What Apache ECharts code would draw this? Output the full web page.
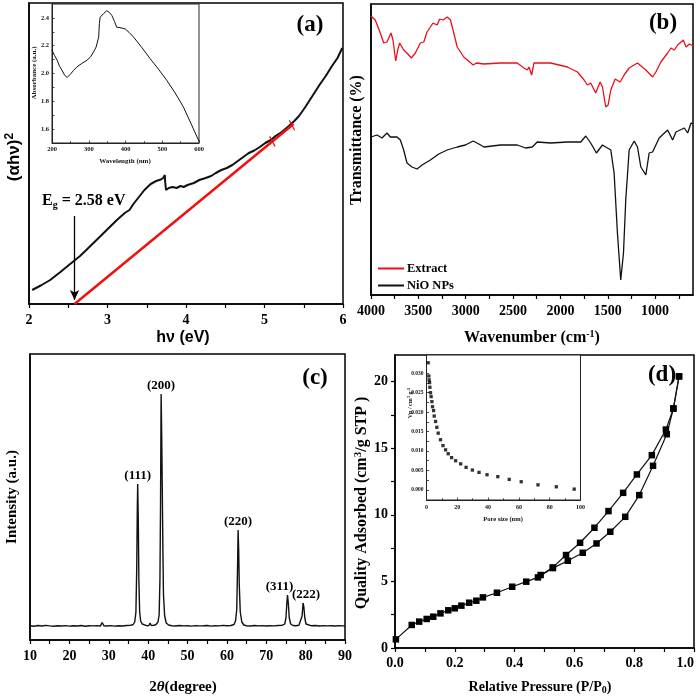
<!DOCTYPE html>
<html>
<head>
<meta charset="utf-8">
<script src="https://cdn.jsdelivr.net/npm/echarts@6/dist/echarts.min.js"></script>
<style>
html,body{margin:0;padding:0;background:#fff;}
#chart{width:700px;height:697px;}
</style>
</head>
<body>
<div id="chart"></div>
<script>
// ---------- DATA ----------
// (a) Tauc plot
const taucEnergy = [2.04,2.15,2.27,2.4,2.54,2.65,2.73,2.86,2.99,3.12,3.22,3.28,3.33,3.40,3.47,3.55,3.62,3.68,3.71,3.73,3.735,3.745,3.78,3.83,3.88,3.93,3.97,4.02,4.1,4.17,4.25,4.32,4.38,4.45,4.52,4.59,4.66,4.73,4.8,4.87,4.94,5.01,5.08,5.14,5.22,5.31,5.38,5.44,5.52,5.61,5.7,5.78,5.86,5.93,5.99];
const taucValue  = [14,18.5,24,32,41,48,54,64,74,84,91,94,100,107,114,120,123,124.5,126,129,122,114,116,117,116,118,117,119,121,124,126,128,131,134,136,139,143,147,151,153.5,157,161,164,168,172,178,183,188,197,208,219,228,238,246,256];
const taucFitEnergy = [2.58, 5.37];
const taucFitValue  = [0, 180];
const fitTick1Energy = [5.066, 5.134];
const fitTick1Value  = [167.6, 157.6];
const fitTick2Energy = [5.316, 5.384];
const fitTick2Value  = [183.7, 173.7];
const bandGap = 2.58;
const arrowTop = 88, arrowBottom = 4;
// (a) inset UV-vis
const uvWavelength = [200,207,214,221,227,234,241,245,250,258,268,281,295,305,313,320,327,329,331,340,349,356,363,370,376,385,399,410,422,445,467,490,512,535,557,580,600];
const uvAbsorbance = [2.167,2.13,2.095,2.05,2.024,1.99,1.971,1.975,1.995,2.02,2.048,2.072,2.095,2.12,2.155,2.19,2.262,2.36,2.405,2.43,2.452,2.44,2.417,2.375,2.333,2.33,2.321,2.295,2.262,2.185,2.107,2.03,1.952,1.86,1.762,1.63,1.512];
// (b) FTIR
const ftirWnExtract = [4000,3955,3902,3866,3831,3789,3768,3739,3718,3697,3655,3620,3574,3532,3479,3443,3408,3345,3302,3274,3239,3196,3161,3126,3090,3020,2921,2886,2808,2632,2456,2385,2350,2332,2304,2279,2103,1926,1820,1750,1715,1680,1627,1581,1556,1521,1496,1468,1422,1369,1327,1274,1186,1098,1027,992,939,868,833,797,762,702,674,638,600];
const ftirExtract   = [279,275,262,252,253,262,255,234,245,252,245,242,237,242,252,253,263,272,270,276,275,278,275,262,248,238,230,232,231,232,232,227,225,228,220,232,232,228,223,215,210,212,202,213,208,188,190,205,216,213,220,227,232,225,218,223,233,242,247,245,250,255,248,251,249];
const ftirWnNiO = [4000,3937,3884,3831,3796,3725,3690,3655,3620,3567,3514,3461,3373,3285,3196,3090,3003,2921,2861,2808,2632,2456,2368,2297,2245,2103,1926,1785,1732,1680,1620,1556,1468,1433,1398,1363,1334,1310,1274,1221,1186,1151,1098,1063,1027,957,868,815,780,692,656,621,600];
const ftirNiO   = [158,160,157,162,158,158,155,145,132,128,126,130,135,141,145,148,150,154,151,148,150,150,147,148,153,152,153,153,159,152,142,150,145,122,62,15,42,95,145,154,148,128,120,142,143,157,165,155,163,167,162,172,171];
const ftirNames = ['Extract','NiO NPs'];
const ftirXLabels = [4000,3500,3000,2500,2000,1500,1000];
const ftirXTicks = [4000,3750,3500,3250,3000,2750,2500,2250,2000,1750,1500,1250,1000,750];
// (c) XRD
const xrdAngle = [10,11,12,13,14,15,16,17,18,19,20,21,22,23,24,25,26,27,27.9,28.3,28.5,28.8,29.5,30.5,31.5,32.5,33.5,34.5,35.5,36.2,36.6,36.9,37.1,37.25,37.35,37.5,37.65,37.85,38.1,38.5,39,39.6,40.2,40.5,40.8,41.4,42.0,42.5,42.8,43.0,43.15,43.3,43.45,43.6,43.75,43.9,44.2,44.6,45.2,46,47,48,49,50,51,52,53,54,55,56,57,58,59,60,61,61.8,62.2,62.5,62.7,62.85,63.0,63.15,63.4,63.8,64.3,65,66,67,68,69,70,71,72,73,74,74.7,75.0,75.25,75.4,75.6,75.85,76.2,76.8,77.5,78.3,78.8,79.1,79.35,79.55,79.8,80.1,80.6,81.5,82.5,83.5,84.5,85.5,86.5,87.5,88.5,89.5,90];
const xrdIntensity = [14.2,13.8,14.5,14.0,14.6,14.1,13.7,14.3,14.0,14.4,13.9,14.2,14.0,14.5,13.8,14.3,14.1,14.4,14.0,17.5,18.5,14.2,14.0,14.4,13.9,14.3,14.0,14.5,14.6,15.5,18,28,70,130,156,120,60,28,19,16,14.8,14.3,14.5,17,14.5,14.6,15.5,18,25,60,135,246,205,150,90,45,24,17,15,14.3,14.0,14.5,14.1,14.3,13.9,14.4,14.1,14.2,14.5,13.9,14.3,14.1,14.6,14.2,14.5,15.5,19,30,70,110,90,55,28,18,15,14.3,14.0,14.5,14.1,14.4,14.0,14.3,14.1,14.5,14.6,16,22,38,45,37,22,16,14.5,14.3,14.8,16,24,37,33,22,16,14.5,14.2,14.5,14.0,14.4,14.1,14.3,14.0,14.4,14.1,14.2];
const peakNames  = ['(111)','(200)','(220)','(311)','(222)'];
const peakAngle  = [37.35,43.3,62.85,75.4,79.35];
const peakHeight = [156,246,110,45,37];
// (d) N2 isotherm
const adsP = [0.003,0.056,0.081,0.106,0.128,0.152,0.178,0.2,0.222,0.248,0.272,0.294,0.341,0.392,0.439,0.478,0.528,0.578,0.628,0.674,0.72,0.77,0.817,0.863,0.909,0.931,0.95];
const adsQ = [0.65,1.73,1.98,2.18,2.35,2.6,2.83,2.98,3.18,3.4,3.55,3.8,4.15,4.6,4.98,5.3,6.0,6.55,7.15,7.85,8.73,9.85,11.48,13.68,16.05,17.98,20.4];
const desP = [0.95,0.931,0.906,0.859,0.809,0.763,0.714,0.667,0.619,0.572,0.528,0.487];
const desQ = [20.4,17.98,16.4,14.48,13.03,11.65,10.28,9.03,7.9,6.98,6.05,5.48];
// (d) inset pore size distribution
const poreSize   = [1.1,1.5,1.7,2.0,2.2,2.6,3.0,3.5,3.9,4.6,5.0,5.9,6.7,7.6,9.1,10.7,12.4,14.1,16.3,18.9,22.2,25.7,29.8,34.1,39.3,46.3,53.7,61.5,72.4,84.3,95.9];
const poreVolume = [0.0327,0.0293,0.0283,0.0276,0.0264,0.0250,0.0240,0.0227,0.0214,0.0204,0.0190,0.0176,0.0161,0.0146,0.0129,0.0114,0.0103,0.0093,0.0083,0.0075,0.0067,0.0058,0.0051,0.0045,0.0039,0.0034,0.0027,0.0021,0.0013,0.0008,0.0002];

// ---------- HELPERS ----------
const serif = '"Liberation Serif","Times New Roman",serif';
const sans = '"Liberation Sans",Arial,sans-serif';
const zip = (a,b) => a.map((v,i)=>[v,b[i]]);

function mainX(grid, min, max, extra) {
  return Object.assign({
    type:'value', gridIndex:grid, min:min, max:max,
    axisLine:{show:true, onZero:false, lineStyle:{color:'#000', width:1.5}},
    axisTick:{show:true, length:4, lineStyle:{color:'#000', width:1.2}},
    minorTick:{show:true, splitNumber:2, length:4, lineStyle:{color:'#000', width:1.2}},
    axisLabel:{color:'#000', fontFamily:serif, fontWeight:'bold', fontSize:14, margin:9, formatter:v=>String(v)},
    splitLine:{show:false}, minorSplitLine:{show:false}
  }, extra||{});
}
function bareY(grid, min, max) {
  return {type:'value', gridIndex:grid, min:min, max:max,
    axisLine:{show:true, onZero:false, lineStyle:{color:'#000', width:1.5}},
    axisTick:{show:false}, axisLabel:{show:false}, splitLine:{show:false}};
}
function insetAxis(grid, min, max, extra) {
  return Object.assign({
    type:'value', gridIndex:grid, min:min, max:max,
    axisLine:{show:true, onZero:false, lineStyle:{color:'#222', width:1}},
    axisTick:{show:true, inside:true, length:2.5, lineStyle:{color:'#222', width:0.8}},
    axisLabel:{color:'#111', fontFamily:serif, fontWeight:'bold', fontSize:6.5, margin:3},
    splitLine:{show:false}
  }, extra||{});
}
function txt(x,y,text,size,opts) {
  return Object.assign({type:'text', x:x, y:y, z:100,
    style:Object.assign({text:text, fill:'#000', font:'bold '+size+'px '+serif, align:'center', verticalAlign:'middle'}, (opts&&opts.style)||{}),
  }, (opts&&opts.el)||{});
}

const chart = echarts.init(document.getElementById('chart'), null, {renderer:'canvas'});

const option = {
  backgroundColor:'#fff',
  animation:false,
  grid:[
    {left:29, top:3, width:314, height:301, show:true, borderColor:'#000', borderWidth:1.5},
    {left:52, top:4, width:147, height:139, show:true, borderColor:'#222', borderWidth:1, backgroundColor:'#fff', z:5},
    {left:371, top:4, width:322, height:291, show:true, borderColor:'#000', borderWidth:1.5},
    {left:30, top:354, width:315, height:286, show:true, borderColor:'#000', borderWidth:1.5},
    {left:395, top:355, width:299, height:293, show:true, borderColor:'#000', borderWidth:1.5},
    {left:426.5, top:355, width:154, height:145, show:true, borderColor:'#222', borderWidth:1, backgroundColor:'#fff', z:5}
  ],
  xAxis:[
    mainX(0, 2, 6, {interval:1}),
    insetAxis(1, 200, 600, {interval:100, minorTick:{show:true, splitNumber:2, length:1.8, lineStyle:{color:'#222', width:0.8}}, z:6}),
    mainX(2, 600, 4000, {inverse:true,
      axisTick:{show:true, length:4, customValues:ftirXTicks, lineStyle:{color:'#000', width:1.2}},
      minorTick:{show:false},
      axisLabel:{color:'#000', fontFamily:serif, fontWeight:'bold', fontSize:14, margin:9, customValues:ftirXLabels, formatter:v=>String(v)}}),
    mainX(3, 10, 90, {interval:10}),
    mainX(4, 0, 1, {interval:0.2, axisLabel:{color:'#000', fontFamily:serif, fontWeight:'bold', fontSize:14, margin:8, alignMaxLabel:'right', formatter:v=>v.toFixed(1)}}),
    insetAxis(5, 0, 100, {interval:20, minorTick:{show:true, splitNumber:2, length:1.8, lineStyle:{color:'#222', width:0.8}}, axisLabel:{color:'#111', fontFamily:serif, fontWeight:'bold', fontSize:6, margin:4}, z:6})
  ],
  yAxis:[
    bareY(0, 0, 301),
    insetAxis(1, 1.5, 2.5, {
      axisTick:{show:true, inside:true, length:2.5, customValues:[1.6,1.7,1.8,1.9,2.0,2.1,2.2,2.3,2.4], lineStyle:{color:'#222', width:0.8}},
      axisLabel:{color:'#111', fontFamily:serif, fontWeight:'bold', fontSize:6.5, margin:3, customValues:[1.6,1.8,2.0,2.2,2.4], formatter:v=>v.toFixed(1)}, z:6}),
    bareY(2, 0, 291),
    bareY(3, 0, 286),
    {type:'value', gridIndex:4, min:0, max:22,
      axisLine:{show:true, onZero:false, lineStyle:{color:'#000', width:1.5}},
      axisTick:{show:true, length:4, customValues:[0,2.5,5,7.5,10,12.5,15,17.5,20], lineStyle:{color:'#000', width:1.2}},
      axisLabel:{color:'#000', fontFamily:serif, fontWeight:'bold', fontSize:14, margin:7, customValues:[0,5,10,15,20]},
      splitLine:{show:false}},
    insetAxis(5, -0.0026, 0.0347, {
      axisTick:{show:true, inside:true, length:2.5, customValues:[0,0.0025,0.005,0.0075,0.01,0.0125,0.015,0.0175,0.02,0.0225,0.025,0.0275,0.03], lineStyle:{color:'#222', width:0.8}},
      axisLabel:{color:'#111', fontFamily:serif, fontWeight:'bold', fontSize:5.5, margin:3, customValues:[0,0.005,0.01,0.015,0.02,0.025,0.03], formatter:v=>v.toFixed(3)}, z:6})
  ],
  legend:{
    left:373, top:257, orient:'vertical', itemGap:4, itemWidth:26, itemHeight:2, icon:'rect',
    data:ftirNames,
    textStyle:{fontFamily:serif, fontWeight:'bold', fontSize:12.5, color:'#000', padding:[0,0,0,-2]}
  },
  series:[
    // (a)
    {type:'line', xAxisIndex:0, yAxisIndex:0, data:zip(taucEnergy,taucValue), showSymbol:false, lineStyle:{color:'#111', width:2}, z:3,
      markLine:{silent:true, symbol:['none','arrow'], symbolSize:[7,10], label:{show:false},
        lineStyle:{color:'#000', width:1.3, type:'solid'},
        data:[[{coord:[bandGap, arrowTop]},{coord:[bandGap, arrowBottom]}]]}},
    {type:'line', xAxisIndex:0, yAxisIndex:0, data:zip(taucFitEnergy,taucFitValue), showSymbol:false, lineStyle:{color:'#ee1111', width:2.5}, z:4},
    {type:'line', xAxisIndex:0, yAxisIndex:0, data:zip(fitTick1Energy,fitTick1Value), showSymbol:false, lineStyle:{color:'#ee1111', width:1.2}, z:4},
    {type:'line', xAxisIndex:0, yAxisIndex:0, data:zip(fitTick2Energy,fitTick2Value), showSymbol:false, lineStyle:{color:'#ee1111', width:1.2}, z:4},
    // (a) inset
    {type:'line', xAxisIndex:1, yAxisIndex:1, data:zip(uvWavelength,uvAbsorbance), showSymbol:false, lineStyle:{color:'#111', width:1}, z:6},
    // (b)
    {name:ftirNames[0], type:'line', xAxisIndex:2, yAxisIndex:2, data:zip(ftirWnExtract,ftirExtract), showSymbol:false, color:'#e8101c', lineStyle:{color:'#e8101c', width:1.3}},
    {name:ftirNames[1], type:'line', xAxisIndex:2, yAxisIndex:2, data:zip(ftirWnNiO,ftirNiO), showSymbol:false, color:'#111', lineStyle:{color:'#111', width:1.3}},
    // (c)
    {type:'line', xAxisIndex:3, yAxisIndex:3, data:zip(xrdAngle,xrdIntensity), showSymbol:false, lineStyle:{color:'#111', width:1.4},
      markPoint:{symbol:'circle', symbolSize:0, silent:true,
        label:{show:true, position:'top', distance:2, formatter:'{b}', color:'#000', fontFamily:serif, fontWeight:'bold', fontSize:13},
        data:peakNames.map((n,i)=>({name:n, coord:[peakAngle[i], peakHeight[i]],
          label:{offset:[i===3?-8:(i===4?3:0), 0]}}))}},
    // (d)
    {type:'line', xAxisIndex:4, yAxisIndex:4, data:zip(adsP,adsQ), symbol:'rect', symbolSize:6.5, showAllSymbol:true, lineStyle:{color:'#111', width:1.2}, itemStyle:{color:'#000'}},
    {type:'line', xAxisIndex:4, yAxisIndex:4, data:zip(desP,desQ), symbol:'rect', symbolSize:6.5, showAllSymbol:true, lineStyle:{color:'#111', width:1.2}, itemStyle:{color:'#000'}},
    // (d) inset
    {type:'scatter', xAxisIndex:5, yAxisIndex:5, data:zip(poreSize,poreVolume), symbol:'rect', symbolSize:3.3, itemStyle:{color:'#000'}, z:6}
  ],
  graphic:[
    txt(310,25,'(a)',23),
    txt(663,23,'(b)',23),
    txt(315,378,'(c)',23),
    txt(662,375,'(d)',23),
    // axis names
    {type:'text', x:14, y:157, rotation:Math.PI/2, z:100,
      style:{text:'(αhν){s|2}', fill:'#000', font:'bold 17px '+sans, align:'center', verticalAlign:'middle',
        rich:{s:{font:'bold 12px '+sans, padding:[0,0,9,0]}}}},
    txt(183,338,'hν (eV)',16,{style:{font:'bold 16px '+sans}}),
    {type:'text', x:357, y:140, rotation:Math.PI/2, z:100,
      style:{text:'Transmittance (%)', fill:'#000', font:'bold 16px '+serif, align:'center', verticalAlign:'middle'}},
    {type:'text', x:532, y:338, z:100,
      style:{text:'Wavenumber (cm{s|-1})', fill:'#000', font:'bold 16px '+serif, align:'center', verticalAlign:'middle',
        rich:{s:{font:'bold 10px '+serif, padding:[0,0,8,0]}}}},
    {type:'text', x:12, y:497, rotation:Math.PI/2, z:100,
      style:{text:'Intensity (a.u.)', fill:'#000', font:'bold 15px '+serif, align:'center', verticalAlign:'middle'}},
    {type:'text', x:183, y:687, z:100,
      style:{text:'2{i|θ}(degree)', fill:'#000', font:'bold 15px '+serif, align:'center', verticalAlign:'middle',
        rich:{i:{font:'italic bold 15px '+serif}}}},
    {type:'text', x:362, y:503, rotation:Math.PI/2, z:100,
      style:{text:'Quality Adsorbed (cm{s|3}/g STP )', fill:'#000', font:'bold 16px '+serif, align:'center', verticalAlign:'middle',
        rich:{s:{font:'bold 11px '+serif, padding:[0,0,8,0]}}}},
    {type:'text', x:540, y:687, z:100,
      style:{text:'Relative Pressure (P/P{b|0})', fill:'#000', font:'bold 14px '+serif, align:'center', verticalAlign:'middle',
        rich:{b:{font:'bold 10px '+serif, padding:[7,0,0,0]}}}},
    // insets
    {type:'text', x:34, y:73, rotation:Math.PI/2, z:100,
      style:{text:'Absorbance (a.u.)', fill:'#111', font:'bold 7px '+serif, align:'center', verticalAlign:'middle'}},
    txt(125,161,'Wavelength (nm)',7,{style:{fill:'#111'}}),
    {type:'text', x:410, y:403, rotation:Math.PI/2, z:100,
      style:{text:'Vp / cm{s|3} g{s|-1}', fill:'#111', font:'bold 6px '+serif, align:'center', verticalAlign:'middle',
        rich:{s:{font:'bold 4.5px '+serif, padding:[0,0,3,0]}}}},
    txt(503,519,'Pore size (nm)',6.5,{style:{fill:'#111'}}),
    // Eg annotation
    {type:'text', x:42, y:201, z:100,
      style:{text:'E{g|g} = 2.58 eV', fill:'#000', font:'bold 16px '+serif, align:'left', verticalAlign:'middle',
        rich:{g:{font:'bold 10px '+serif, padding:[8,0,0,0]}}}}
  ]
};
chart.setOption(option);
</script>
</body>
</html>
